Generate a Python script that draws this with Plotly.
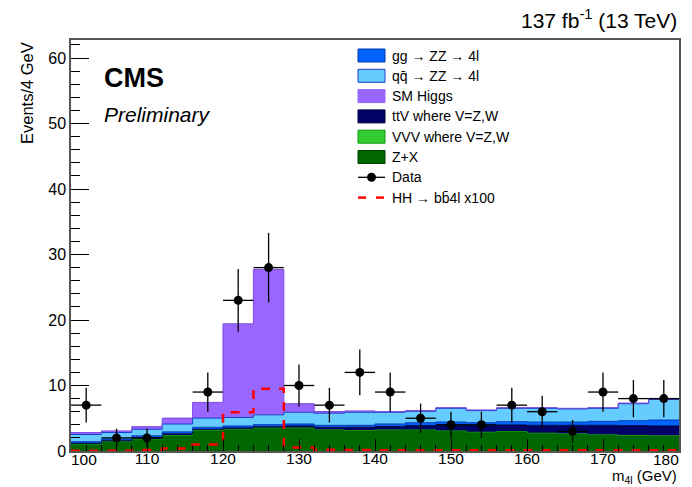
import plotly.graph_objects as go

# ---------------- data ----------------
bin_lo = [100, 104, 108, 112, 116, 120, 124, 128, 132, 136,
          140, 144, 148, 152, 156, 160, 164, 168, 172, 176]
x_end = 180

zx    = [1.0, 1.4, 1.8, 2.35, 3.1, 3.3, 3.5, 3.5, 3.2, 3.1,
         3.2, 3.2, 3.05, 2.85, 2.95, 2.7, 2.6, 2.45, 2.35, 2.3]
vvv   = [0.02] * 20
ttv   = [0.15, 0.15, 0.2, 0.25, 0.2, 0.2, 0.2, 0.3, 0.4, 0.5,
         0.5, 0.65, 0.85, 1.0, 1.0, 1.2, 1.3, 1.45, 1.5, 1.5]
ggzz  = [0.25, 0.25, 0.3, 0.3, 0.3, 0.3, 0.3, 0.3, 0.3, 0.3,
         0.4, 0.45, 0.5, 0.45, 0.5, 0.5, 0.5, 0.6, 0.75, 0.9]
qqzz  = [1.1, 1.0, 1.0, 1.2, 1.4, 1.3, 1.5, 1.8, 1.85, 2.0,
         1.8, 1.75, 2.1, 1.85, 2.05, 2.1, 2.0, 2.0, 2.6, 3.15]
higgs = [0.3, 0.25, 0.4, 0.9, 2.4, 14.3, 22.2, 1.3, 0.25, 0.2,
         0.1, 0.1, 0.1, 0.1, 0.1, 0.1, 0.1, 0.1, 0.1, 0.1]
hh_x100 = [0.05, 0.05, 0.15, 0.4, 1.0, 5.9, 9.5, 0.55, 0.2, 0.15,
           0.1, 0.1, 0.1, 0.1, 0.1, 0.1, 0.1, 0.1, 0.1, 0.1]

data_x   = [102, 106, 110, 114, 118, 122, 126, 130, 134, 138,
            142, 146, 150, 154, 158, 162, 166, 170, 174, 178]
data_y   = [7, 2, 2, None, 9, 23, 28, 10, 7, 12,
            9, 5, 4, 4, 7, 6, 3, 9, 8, 8]
data_err = [2.65, 1.4, 1.4, 0, 3.0, 4.8, 5.3, 3.2, 2.65, 3.5,
            3.0, 2.25, 2.0, 2.0, 2.65, 2.45, 1.75, 3.0, 2.85, 2.85]
data_xerr = [2] * 20

x_tickvals = [110, 120, 130, 140, 150, 160, 170]
x_edge_labels = ["100", "180"]

legend_labels = ["gg \u2192 ZZ \u2192 4l", "qq\u0304 \u2192 ZZ \u2192 4l", "SM Higgs",
                 "ttV where V=Z,W", "VVV where V=Z,W", "Z+X", "Data",
                 "HH \u2192 bb\u03044l x100"]

# ---------------- styles ----------------
FONT = "Liberation Sans"
stack = [  # bottom to top
    ("Z+X", zx, "#006600", "#003d00"),
    ("VVV", vvv, "#33cc33", "#119911"),
    ("ttV", ttv, "#000066", "#00003a"),
    ("gg", ggzz, "#0064ff", "#0038b0"),
    ("qq", qqzz, "#66ccff", "#1a3fcc"),
    ("Higgs", higgs, "#9966ff", "#7a4ddd"),
]

xs = bin_lo + [x_end]
fig = go.Figure()
for name, vals, fc, lc in stack:
    fig.add_trace(go.Scatter(
        x=xs, y=vals + [vals[-1]], mode="lines", stackgroup="bkg",
        line=dict(shape="hv", color=lc, width=1), fillcolor=fc,
        name=name, showlegend=False, hoverinfo="skip"))

fig.add_trace(go.Scatter(
    x=xs, y=hh_x100 + [hh_x100[-1]], mode="lines",
    line=dict(shape="hv", color="#ff0000", width=2.5, dash="dash"),
    showlegend=False, hoverinfo="skip"))

fig.add_trace(go.Scatter(
    x=data_x, y=data_y, mode="markers",
    marker=dict(color="black", size=9),
    error_y=dict(type="data", array=data_err, color="black", thickness=1.3, width=0),
    error_x=dict(type="data", array=data_xerr, color="black", thickness=1.3, width=0),
    showlegend=False, hoverinfo="skip"))

# ---------------- manual legend ----------------
L, T, W, H = 71, 40, 608, 411
def px(xp):
    return (xp - L) / W
def py(yp):
    return (T + H - yp) / H

shapes = []
annots = []
row_y = [55.5 + 20.3 * i for i in range(8)]
box_styles = [("#0064ff", "#0038b0"), ("#66ccff", "#1a3fcc"), ("#9966ff", "#9966ff"),
              ("#000066", "#00003a"), ("#33cc33", "#119911"), ("#006600", "#003d00")]
for i, (fc, lc) in enumerate(box_styles):
    shapes.append(dict(type="rect", xref="paper", yref="paper",
                       x0=px(358), x1=px(385), y0=py(row_y[i] + 6.5), y1=py(row_y[i] - 6.5),
                       fillcolor=fc, line=dict(color=lc, width=1)))
# data entry
shapes.append(dict(type="line", xref="paper", yref="paper",
                   x0=px(358), x1=px(385), y0=py(row_y[6]), y1=py(row_y[6]),
                   line=dict(color="black", width=1.3)))
shapes.append(dict(type="circle", xref="paper", yref="paper",
                   x0=px(367), x1=px(376), y0=py(row_y[6] + 4.5), y1=py(row_y[6] - 4.5),
                   fillcolor="black", line=dict(color="black", width=0)))
# HH entry
for a, b in [(358, 366), (376, 384)]:
    shapes.append(dict(type="line", xref="paper", yref="paper",
                       x0=px(a), x1=px(b), y0=py(row_y[7]), y1=py(row_y[7]),
                       line=dict(color="#ff0000", width=2.5)))
for i, lab in enumerate(legend_labels):
    annots.append(dict(text=lab, xref="paper", yref="paper", x=px(390), y=py(row_y[i]),
                       xanchor="left", yanchor="middle", showarrow=False,
                       font=dict(family=FONT, size=14, color="black")))

annots += [
    dict(text="<b>CMS</b>", xref="paper", yref="paper", x=px(102), y=py(78),
         xanchor="left", yanchor="middle", showarrow=False,
         font=dict(family=FONT, size=27, color="black")),
    dict(text="<i>Preliminary</i>", xref="paper", yref="paper", x=px(102), y=py(114),
         xanchor="left", yanchor="middle", showarrow=False,
         font=dict(family=FONT, size=21, color="black")),
    dict(text="137 fb<sup>-1</sup> (13 TeV)", xref="paper", yref="paper", x=1.0, y=py(19),
         xanchor="right", yanchor="middle", showarrow=False,
         font=dict(family=FONT, size=21, color="black")),
    dict(text="Events/4 GeV", xref="paper", yref="paper", x=px(27), y=1.0,
         xanchor="center", yanchor="top", textangle=-90, showarrow=False,
         font=dict(family=FONT, size=16.5, color="black")),
    dict(text="m<sub>4l</sub> (GeV)", xref="paper", yref="paper", x=1.0, y=py(488),
         xanchor="right", yanchor="bottom", showarrow=False,
         font=dict(family=FONT, size=15, color="black")),
    # edge tick labels (shifted inward as in the original)
    dict(text=x_edge_labels[0], xref="paper", yref="paper", x=px(69), y=py(459),
         xanchor="left", yanchor="middle", showarrow=False,
         font=dict(family=FONT, size=15.5, color="black")),
    dict(text=x_edge_labels[1], xref="paper", yref="paper", x=px(681), y=py(459),
         xanchor="right", yanchor="middle", showarrow=False,
         font=dict(family=FONT, size=15.5, color="black")),
]

fig.update_layout(
    width=692, height=487,
    margin=dict(l=L, r=692 - L - W, t=T, b=487 - T - H),
    paper_bgcolor="white", plot_bgcolor="white",
    showlegend=False, shapes=shapes, annotations=annots,
    xaxis=dict(range=[100, 180], tickmode="array", tickvals=x_tickvals,
               ticks="inside", ticklen=12, tickwidth=1, tickcolor="black",
               minor=dict(ticks="inside", ticklen=6, dtick=2, tick0=100, tickcolor="black"),
               showline=True, linecolor="#555555", linewidth=1.5, mirror=True,
               showgrid=False, zeroline=False,
               tickfont=dict(family=FONT, size=15.5, color="black")),
    yaxis=dict(range=[0, 62.75], tick0=0, dtick=10, ticks="inside", ticklen=18,
               tickwidth=1, tickcolor="black",
               minor=dict(ticks="inside", ticklen=9, dtick=2, tick0=0, tickcolor="black"),
               showline=True, linecolor="#555555", linewidth=1.5, mirror=True,
               showgrid=False, zeroline=False,
               tickfont=dict(family=FONT, size=16, color="black")),
)
try:
    fig.update_xaxes(ticklabelstandoff=-7)
except Exception:
    pass

fig.write_html("out.html")
